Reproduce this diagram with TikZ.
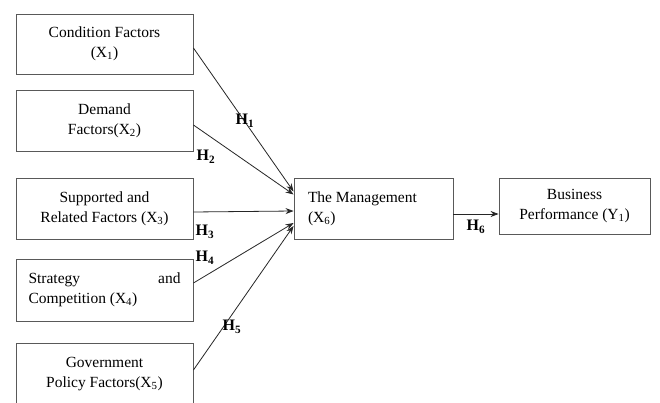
\documentclass[tikz,border=0pt]{standalone}
\usepackage{fontspec}
\setmainfont{Liberation Serif}
\usetikzlibrary{arrows.meta}
\tikzset{
  fbox/.style={draw=black!65, line width=0.9pt, minimum width=177pt, inner sep=0pt,
    font=\fontsize{15.5}{20}\selectfont, align=center},
  arr/.style={draw=black!85, line width=0.8pt, -{Stealth[length=8pt,width=6pt]}},
  hlab/.style={font=\fontsize{16}{20}\selectfont\bfseries, inner sep=0pt}
}
\newcommand{\hl}[1]{H\textsubscript{#1}}
\begin{document}
\begin{tikzpicture}[x=1pt,y=-1pt]
\useasboundingbox[fill=white] (0,0) rectangle (660,403);
\node[fbox, minimum height=60pt] (b1) at (104.5,44) {Condition Factors\\(X\textsubscript{1})};
\node[fbox, minimum height=61pt] (b2) at (104.5,120.5) {Demand\\Factors(X\textsubscript{2})};
\node[fbox, minimum height=61pt] (b3) at (104.5,208.5) {Supported and\\Related Factors (X\textsubscript{3})};
\node[fbox, minimum height=62pt] (b4) at (104.5,290) {\parbox{152pt}{\fontsize{15.5}{20}\selectfont Strategy\hfill and\\Competition (X\textsubscript{4})}};
\node[fbox, minimum height=62pt] (b5) at (104.5,374) {Government\\Policy Factors(X\textsubscript{5})};
\node[fbox, minimum width=159pt, minimum height=61pt] (m) at (373.5,208.5) {\parbox{131pt}{\fontsize{15.5}{20}\selectfont The Management\\(X\textsubscript{6})}};
\node[fbox, minimum width=151pt, minimum height=56pt] (bp) at (574.5,206) {Business\\Performance (Y\textsubscript{1})};
\draw[arr] ([yshift=-4pt]b1.east) -- ([yshift=17pt]m.west);
\draw[arr] ([yshift=-4.5pt]b2.east) -- ([yshift=14pt]m.west);
\draw[arr] ([yshift=-3.5pt]b3.east) -- ([yshift=-2.5pt]m.west);
\draw[arr] ([yshift=7pt]b4.east) -- ([yshift=-14.5pt]m.west);
\draw[arr] ([yshift=4pt]b5.east) -- ([yshift=-17.5pt]m.west);
\draw[arr] ([yshift=-5.5pt]m.east) -- ([yshift=-8pt]bp.west);
\node[hlab] (h1) at (245,121) {\hl{1}};
\node[hlab] (h2) at (206,157) {\hl{2}};
\node[hlab] (h3) at (205,232) {\hl{3}};
\node[hlab] (h4) at (205,258) {\hl{4}};
\node[hlab] (h5) at (232,327) {\hl{5}};
\node[hlab] (h6) at (476,227) {\hl{6}};
\end{tikzpicture}
\end{document}
